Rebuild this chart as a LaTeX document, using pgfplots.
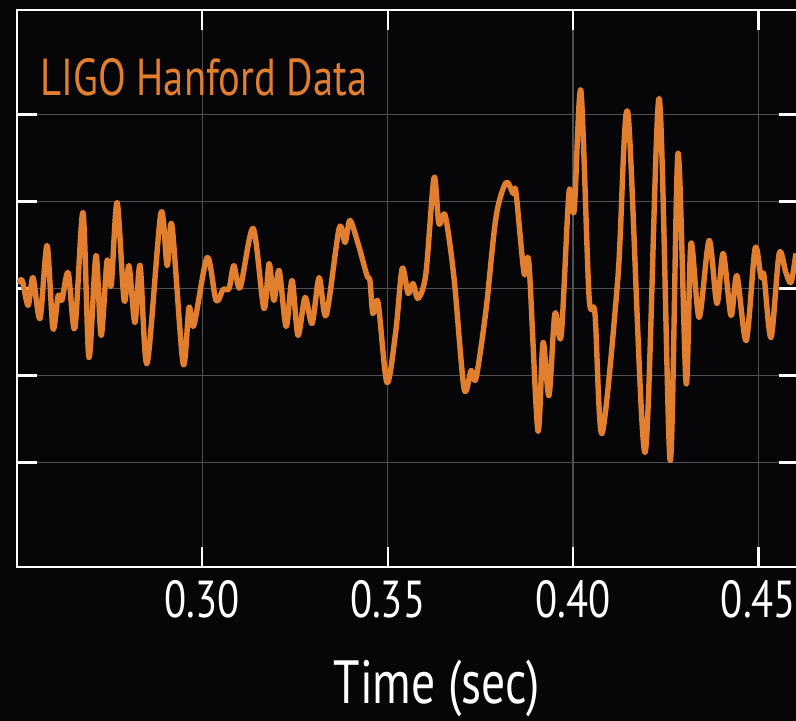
\documentclass[border=0pt]{standalone}
\usepackage{fontspec}
\setmainfont{PT Sans}[FakeStretch=0.78]
\usepackage{pgfplots}
\pgfplotsset{compat=1.18}

\definecolor{ligo}{RGB}{226,127,46}
\definecolor{bg}{RGB}{6,6,8}
\definecolor{gridgray}{RGB}{80,80,82}

\pgfplotstableread{
t y
0.2503 0.057
0.2514 0.092
0.2530 -0.195
0.2543 0.126
0.2562 -0.345
0.2581 0.494
0.2597 -0.460
0.2611 -0.080
0.2621 -0.138
0.2638 0.184
0.2656 -0.460
0.2678 0.874
0.2694 -0.793
0.2713 0.379
0.2727 -0.540
0.2743 0.322
0.2754 0.034
0.2770 0.989
0.2789 -0.138
0.2802 0.264
0.2818 -0.391
0.2832 0.264
0.2851 -0.862
0.2888 0.862
0.2905 0.264
0.2918 0.724
0.2948 -0.862
0.2964 -0.218
0.2977 -0.425
0.3013 0.356
0.3037 -0.138
0.3056 -0.011
0.3072 0.000
0.3085 0.264
0.3102 0.011
0.3137 0.690
0.3166 -0.230
0.3180 0.287
0.3193 -0.138
0.3207 0.207
0.3226 -0.437
0.3242 0.092
0.3258 -0.540
0.3277 -0.103
0.3296 -0.402
0.3315 0.126
0.3334 -0.310
0.3369 0.690
0.3385 0.529
0.3398 0.782
0.3420 0.517
0.3444 0.149
0.3452 0.092
0.3460 -0.287
0.3474 -0.161
0.3498 -1.080
0.3522 -0.483
0.3539 0.230
0.3555 -0.057
0.3568 0.057
0.3582 -0.115
0.3603 0.172
0.3625 1.276
0.3638 0.747
0.3655 0.839
0.3679 0.115
0.3706 -1.149
0.3725 -0.943
0.3738 -1.034
0.3765 -0.253
0.3792 0.816
0.3819 1.218
0.3838 1.092
0.3846 1.103
0.3868 0.172
0.3881 0.287
0.3905 -1.632
0.3919 -0.621
0.3935 -1.230
0.3951 -0.287
0.3968 -0.540
0.3989 1.103
0.4003 0.897
0.4021 2.276
0.4043 -0.080
0.4059 -0.287
0.4078 -1.667
0.4121 0.126
0.4148 2.011
0.4194 -1.885
0.4232 2.184
0.4262 -1.977
0.4283 1.552
0.4305 -1.092
0.4318 0.517
0.4340 -0.333
0.4367 0.552
0.4388 -0.172
0.4405 0.402
0.4426 -0.310
0.4442 0.149
0.4467 -0.598
0.4491 0.460
0.4507 0.126
0.4515 0.149
0.4534 -0.563
0.4556 0.402
0.4574 0.184
0.4588 0.069
0.4601 0.402
}\hanford

\begin{document}
\begin{tikzpicture}
% black page, also fixes the picture size
\path[use as bounding box, fill=bg] (-8.5pt,-77pt) rectangle (389.5pt,283.5pt);
\begin{axis}[
    scale only axis,
    width=391pt, height=278.5pt,
    xmin=0.25, xmax=0.46095,
    ymin=-3.2, ymax=3.2,
    xtick={0.30,0.35,0.40,0.45},
    ytick={-2,-1,0,1,2},
    yticklabels={},
    grid=major,
    major grid style={color=gridgray, line width=0.75pt},
    axis line style={white, line width=1.25pt},
    tick style={white, line width=1.1pt},
    major tick length=10pt,
    tick align=inside,
    /pgf/number format/assume math mode=true,
    xticklabel style={/pgf/number format/.cd, fixed, fixed zerofill, precision=2,
        /tikz/.cd, white, font=\fontsize{26}{30}\selectfont, anchor=base, yshift=-25.5pt},
    xlabel={Time (sec)},
    xlabel style={white, font=\fontsize{30.5}{34}\selectfont, anchor=base,
        at={(axis description cs:0.537,0)}, yshift=-68pt},
]
\addplot[ligo, line width=2.7pt, line join=round, smooth, tension=0.5] table[x=t, y=y] {\hanford};
\node[ligo, anchor=base west, font=\fontsize{26}{30}\selectfont, inner sep=0pt]
    at (axis description cs:0.0295,0.847) {LIGO Hanford Data};
\end{axis}
\end{tikzpicture}
\end{document}
